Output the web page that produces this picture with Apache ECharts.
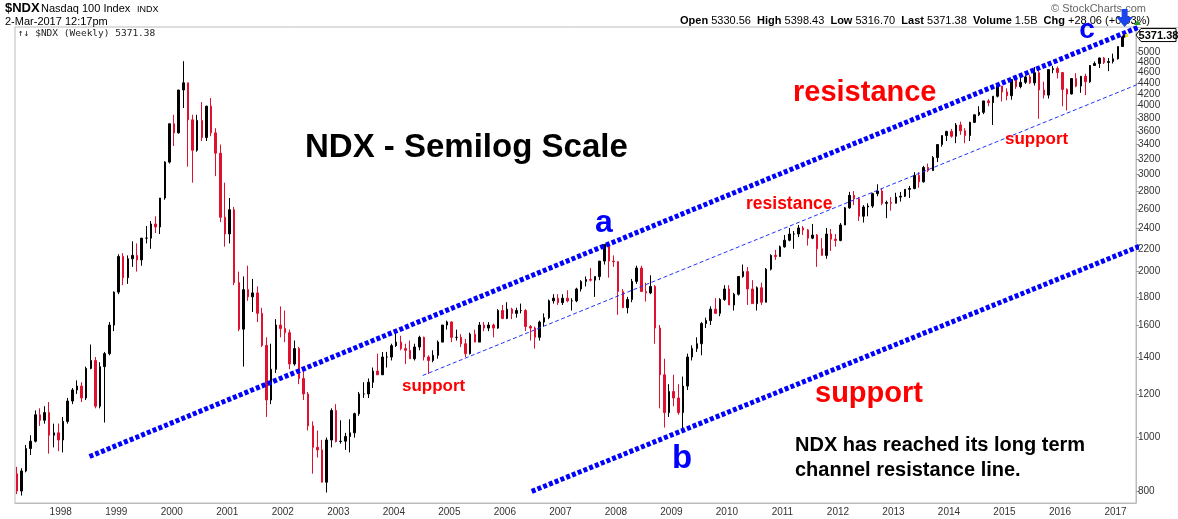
<!DOCTYPE html>
<html><head><meta charset="utf-8">
<script src="https://cdn.jsdelivr.net/npm/echarts@6/dist/echarts.min.js"></script>
<style>html,body{margin:0;padding:0;background:#fff}#c{width:1178px;height:519px}</style>
</head><body><div id="c"></div>
<script>
// ---- categories: monthly bars from Mar 1997 to Mar 2017 (last bar = 2-Mar-2017) ----
const startYear = 1997, startMonth = 3;
const lastBarDate = [2017, 3, 2];

// ---- values (NDX, monthly OHLC) ----
const openVals = [
/*1997*/ 860,800,870,955,985,1100,1075,1110,1010,1020,
/*1998*/ 990,1070,1165,1220,1240,1180,1335,1380,1140,1345,1420,1600,
/*1999*/ 1836,2130,1950,2110,2140,2100,2300,2300,2440,2410,2720,3160,
/*2000*/ 3708,3570,4270,4400,3770,3320,3760,3500,3990,3570,3280,2510,
/*2001*/ 2341,2590,1910,1573,1855,1800,1830,1680,1470,1170,1330,1600,
/*2002*/ 1577,1550,1360,1450,1280,1200,1050,960,950,830,990,1120,
/*2003*/ 984,985,1005,1020,1105,1200,1200,1260,1320,1300,1400,1400,
/*2004*/ 1468,1490,1450,1440,1390,1460,1520,1400,1380,1410,1490,1600,
/*2005*/ 1621,1520,1520,1480,1420,1540,1490,1600,1580,1600,1580,1700,
/*2006*/ 1645,1710,1680,1700,1700,1590,1580,1520,1620,1650,1770,1790,
/*2007*/ 1757,1790,1770,1770,1860,1920,1935,1930,1960,2090,2240,2090,
/*2008*/ 2085,1840,1720,1780,1920,2030,1840,1830,1880,1580,1300,1110,
/*2009*/ 1212,1180,1110,1240,1400,1450,1480,1610,1630,1710,1680,1780,
/*2010*/ 1860,1740,1820,1960,2000,1860,1750,1870,1760,2020,2140,2130,
/*2011*/ 2218,2280,2340,2340,2400,2380,2300,2330,2200,2140,2340,2290,
/*2012*/ 2278,2430,2610,2750,2710,2520,2620,2630,2770,2800,2660,2670,
/*2013*/ 2661,2730,2740,2820,2830,2990,2910,3090,3050,3220,3400,3530,
/*2014*/ 3592,3520,3690,3600,3530,3730,3850,3890,4080,4050,4160,4340,
/*2015*/ 4236,4170,4460,4330,4410,4510,4400,4590,4270,4180,4650,4670,
/*2016*/ 4593,4280,4200,4480,4340,4520,4420,4730,4770,4880,4790,4810,
/*2017*/ 4864,5120,5330.56
];
const highVals = [
/*1997*/ 885,880,970,1010,1120,1130,1140,1160,1060,1060,
/*1998*/ 1090,1180,1230,1270,1260,1345,1475,1400,1370,1430,1620,1840,
/*1999*/ 2150,2160,2140,2270,2250,2300,2420,2470,2520,2720,3170,3710,
/*2000*/ 3850,4270,4816,4400,3850,3850,4060,4000,4130,3640,3400,2900,
/*2001*/ 2720,2620,2000,1960,2050,1940,1880,1720,1520,1480,1640,1730,
/*2002*/ 1700,1570,1500,1460,1340,1210,1070,1030,990,1000,1130,1150,
/*2003*/ 1075,1020,1080,1110,1210,1260,1280,1340,1420,1430,1430,1480,
/*2004*/ 1560,1530,1480,1500,1480,1530,1525,1410,1440,1500,1600,1630,
/*2005*/ 1625,1570,1540,1510,1550,1570,1620,1620,1620,1610,1710,1740,
/*2006*/ 1760,1720,1720,1750,1710,1600,1590,1630,1680,1780,1820,1820,
/*2007*/ 1820,1850,1790,1870,1930,1960,2030,1960,2090,2240,2240,2140,
/*2008*/ 2090,1860,1800,1940,2050,2050,1910,1970,1890,1600,1390,1250,
/*2009*/ 1300,1250,1290,1420,1470,1520,1620,1650,1730,1790,1790,1890,
/*2010*/ 1890,1830,1960,2060,2040,1930,1880,1910,2030,2150,2190,2230,
/*2011*/ 2330,2400,2370,2430,2420,2390,2440,2340,2300,2400,2390,2340,
/*2012*/ 2450,2620,2790,2800,2730,2640,2660,2780,2880,2830,2690,2730,
/*2013*/ 2780,2790,2820,2860,3030,3030,3110,3140,3240,3400,3530,3600,
/*2014*/ 3630,3720,3740,3640,3740,3860,3990,4080,4110,4160,4340,4340,
/*2015*/ 4300,4460,4480,4520,4540,4550,4700,4650,4420,4650,4720,4710,
/*2016*/ 4600,4300,4490,4580,4530,4570,4740,4810,4890,4900,4880,4970,
/*2017*/ 5120,5360,5398.43
];
const lowVals = [
/*1997*/ 790,785,865,930,980,1050,1060,935,960,945,
/*1998*/ 940,1060,1150,1200,1160,1170,1330,1130,1130,1065,1410,1560,
/*1999*/ 1820,1890,1900,2040,2000,2050,2250,2200,2350,2340,2700,3140,
/*2000*/ 3380,3560,3960,3100,2900,3300,3450,3450,3520,2980,2460,2220,
/*2001*/ 2250,1890,1560,1345,1770,1690,1620,1460,1090,1150,1310,1520,
/*2002*/ 1490,1330,1350,1250,1170,1030,860,920,830,795,960,980,
/*2003*/ 975,950,940,1000,1095,1180,1180,1230,1300,1300,1340,1380,
/*2004*/ 1460,1440,1360,1390,1380,1440,1380,1305,1370,1390,1490,1570,
/*2005*/ 1490,1500,1460,1400,1415,1490,1490,1560,1560,1520,1575,1640,
/*2006*/ 1640,1640,1650,1680,1560,1500,1450,1500,1590,1640,1750,1740,
/*2007*/ 1740,1760,1700,1760,1840,1880,1920,1800,1930,2060,1950,2040,
/*2008*/ 1670,1720,1680,1760,1900,1840,1765,1820,1480,1130,1043,1090,
/*2009*/ 1140,1100,1036,1220,1380,1430,1410,1580,1600,1680,1660,1770,
/*2010*/ 1740,1700,1810,1950,1740,1750,1700,1740,1760,2010,2100,2130,
/*2011*/ 2210,2270,2200,2310,2330,2230,2290,2040,2140,2110,2180,2220,
/*2012*/ 2270,2430,2600,2640,2470,2455,2520,2610,2740,2640,2500,2580,
/*2013*/ 2660,2680,2730,2720,2820,2840,2900,3030,3050,3160,3370,3450,
/*2014*/ 3500,3420,3540,3420,3450,3720,3830,3860,3990,3690,4140,4070,
/*2015*/ 4090,4100,4290,4300,4380,4380,4350,3787,4120,4120,4580,4480,
/*2016*/ 3990,3920,4190,4320,4220,4180,4400,4720,4680,4760,4620,4770,
/*2017*/ 4850,5110,5316.70
];
const closeVals = [
/*1997*/ 800,870,955,985,1100,1075,1110,1010,1020,990,
/*1998*/ 1070,1165,1220,1240,1180,1335,1380,1140,1345,1420,1600,1836,
/*1999*/ 2130,1950,2110,2140,2100,2300,2300,2440,2410,2720,3160,3708,
/*2000*/ 3570,4270,4400,3770,3320,3760,3500,3990,3570,3280,2510,2341,
/*2001*/ 2590,1910,1573,1855,1800,1830,1680,1470,1170,1330,1600,1577,
/*2002*/ 1550,1360,1450,1280,1200,1050,960,950,830,990,1120,984,
/*2003*/ 985,1005,1020,1105,1200,1200,1260,1320,1300,1400,1400,1468,
/*2004*/ 1490,1450,1440,1390,1460,1520,1400,1380,1410,1490,1600,1621,
/*2005*/ 1520,1520,1480,1420,1540,1490,1600,1580,1600,1580,1700,1645,
/*2006*/ 1710,1680,1700,1700,1590,1580,1520,1620,1650,1770,1790,1757,
/*2007*/ 1790,1770,1770,1860,1920,1935,1930,1960,2090,2240,2090,2085,
/*2008*/ 1840,1720,1780,1920,2030,1840,1830,1880,1580,1300,1110,1212,
/*2009*/ 1180,1110,1240,1400,1450,1480,1610,1630,1710,1680,1780,1860,
/*2010*/ 1740,1820,1960,2000,1860,1750,1870,1760,2020,2140,2130,2218,
/*2011*/ 2280,2340,2340,2400,2380,2300,2330,2200,2140,2340,2290,2278,
/*2012*/ 2430,2610,2750,2710,2520,2620,2630,2770,2800,2660,2670,2661,
/*2013*/ 2730,2740,2820,2830,2990,2910,3090,3050,3220,3400,3530,3592,
/*2014*/ 3520,3690,3600,3530,3730,3850,3890,4080,4050,4160,4340,4236,
/*2015*/ 4170,4460,4330,4410,4510,4400,4590,4270,4180,4650,4670,4593,
/*2016*/ 4280,4200,4480,4340,4520,4420,4730,4770,4880,4790,4810,4864,
/*2017*/ 5120,5330,5371.38
];
const lastValue = 5371.38;

// ---- axes ----
const yTickLabels = [800,1000,1200,1400,1600,1800,2000,2200,2400,2600,2800,3000,3200,3400,3600,3800,4000,4200,4400,4600,4800,5000,5200];
const xYearLabels = [1998,1999,2000,2001,2002,2003,2004,2005,2006,2007,2008,2009,2010,2011,2012,2013,2014,2015,2016,2017];
const xRange = [1997.176, 2017.369];
const yRange = [761, 5555];

// ---- drawn channel lines, [decimal year, index value] ----
const upperChannel = [[1998.519, 924], [2018.126, 5938]];
const middleChannel = [[2004.520, 1296], [2018.126, 4682]];
const lowerChannel = [[2006.484, 799], [2018.126, 2372]];

// build bar positions (mid-month in decimal years; last bar at its date)
const rows = [];
for (let i = 0; i < closeVals.length; i++) {
  const mi = startMonth - 1 + i;
  const y = startYear + Math.floor(mi / 12), m = mi % 12;
  let t = y + (m + 0.5) / 12;
  if (i === closeVals.length - 1) {
    const d = new Date(Date.UTC(lastBarDate[0], lastBarDate[1]-1, lastBarDate[2]));
    const s = Date.UTC(lastBarDate[0],0,1), e = Date.UTC(lastBarDate[0]+1,0,1);
    t = lastBarDate[0] + (d - s) / (e - s);
  }
  rows.push([t, openVals[i], closeVals[i], lowVals[i], highVals[i]]);
}

const FF = '"Liberation Sans", Arial, sans-serif';
const RED = '#ff0000', BLUE = '#0000ff', BARRED = '#e0102f';

function txt(x, y, text, font, fill, align, va, z) {
  return {type:'text', x:x, y:y, silent:true, z:z||100,
    style:{text:text, font:font, fill:fill||'#000', align:align||'left', verticalAlign:va||'middle'}};
}

const chart = echarts.init(document.getElementById('c'), null, {renderer:'canvas'});
const channelStyle = {color:BLUE, width:5, type:[4,2.2], cap:'butt'};
chart.setOption({
  animation:false,
  backgroundColor:'#fff',
  grid:{left:15, right:42, top:27, bottom:16, show:true, borderColor:'#bbb', borderWidth:1, containLabel:false},
  dataset:{source:rows},
  xAxis:{type:'value', min:xRange[0], max:xRange[1],
    axisLine:{show:true, lineStyle:{color:'#bbb'}}, axisTick:{show:false}, splitLine:{show:false},
    axisLabel:{customValues:xYearLabels, formatter:v=>String(Math.round(v)), color:'#333', fontSize:10, fontFamily:FF, margin:4}},
  yAxis:{type:'log', position:'right', min:yRange[0], max:yRange[1],
    axisLine:{show:true, lineStyle:{color:'#bbb'}},
    axisTick:{show:true, customValues:yTickLabels, length:3, lineStyle:{color:'#999'}},
    splitLine:{show:false}, minorTick:{show:false},
    axisLabel:{customValues:yTickLabels, formatter:v=>String(Math.round(v)), color:'#333', fontSize:10, fontFamily:FF, margin:2}},
  series:[
    {type:'candlestick', encode:{x:0, y:[1,2,3,4]}, barWidth:2, silent:true,
      itemStyle:{color:'#000', color0:BARRED, borderColor:'#000', borderColor0:BARRED, borderWidth:1}},
    {type:'line', data:upperChannel, symbol:'none', clip:false, silent:true, z:5, lineStyle:channelStyle},
    {type:'line', data:lowerChannel, symbol:'none', clip:false, silent:true, z:5, lineStyle:channelStyle},
    {type:'line', data:middleChannel, symbol:'none', clip:false, silent:true, z:5,
      lineStyle:{color:'#2233ff', width:1, type:[4,2.5]}}
  ]
});

// annotations
const lastT = rows[rows.length-1][0];
const pTag = chart.convertToPixel({xAxisIndex:0, yAxisIndex:0}, [lastT, lastValue]);
const ax = pTag[0];
const tagY = pTag[1];

const graphics = [
  {type:'line', silent:true, shape:{x1:1136, y1:27.5, x2:1178, y2:27.5}, style:{stroke:'#bbb', lineWidth:1}},
  txt(5, 8.5, '$NDX', 'bold 13px '+FF, '#000'),
  txt(41, 9, 'Nasdaq 100 Index', '11px '+FF, '#000'),
  txt(137, 9.5, 'INDX', '9px '+FF, '#000'),
  txt(5, 21.5, '2-Mar-2017 12:17pm', '11px '+FF, '#000'),
  txt(1051, 8.5, '\u00A9 StockCharts.com', '11px '+FF, '#666'),
  {type:'text', x:680, y:21, silent:true, z:100, style:{
    text:'{b|Open} {n|5330.56}  {b|High} {n|5398.43}  {b|Low} {n|5316.70}  {b|Last} {n|5371.38}  {b|Volume} {n|1.5B}  {b|Chg} {n|+28.06 (+0.53%)}',
    verticalAlign:'middle', align:'left', fill:'#000', font:'11px '+FF,
    rich:{b:{font:'bold 11px '+FF, fill:'#000'}, n:{font:'11px '+FF, fill:'#000'}}}},
  txt(18, 34, '\u2191\u2193 $NDX (Weekly) 5371.38', '9.5px "DejaVu Sans Mono", monospace', '#222'),
  txt(305, 148, 'NDX - Semilog Scale', 'bold 33px '+FF, '#000'),
  txt(793, 93, 'resistance', 'bold 29px '+FF, RED),
  txt(746, 204, 'resistance', 'bold 17.5px '+FF, RED),
  txt(1005, 139, 'support', 'bold 17px '+FF, RED),
  txt(402, 386, 'support', 'bold 17px '+FF, RED),
  txt(815, 394, 'support', 'bold 29px '+FF, RED),
  txt(604, 223, 'a', 'bold 32px '+FF, BLUE, 'center'),
  txt(682, 459, 'b', 'bold 33px '+FF, BLUE, 'center'),
  txt(1087, 30, 'c', 'bold 28px '+FF, BLUE, 'center'),
  txt(795, 445, 'NDX has reached its long term', 'bold 20px '+FF, '#000'),
  txt(795, 470, 'channel resistance line.', 'bold 20px '+FF, '#000'),
  // price tag
  {type:'polygon', silent:true, z:110, shape:{points:[[1136,tagY],[1141,tagY-6.5],[1176,tagY-6.5],[1176,tagY+6.5],[1141,tagY+6.5]]},
    style:{fill:'#fff', stroke:'#000', lineWidth:1}},
  txt(1158.5, tagY+0.5, '5371.38', 'bold 11px '+FF, '#000', 'center', 'middle', 115),
  // current-bar marker
  {type:'rect', silent:true, z:90, shape:{x:ax+0.5, y:tagY-1, width:3, height:3}, style:{fill:'#f2e600'}},
  // small green triangle (up change)
  {type:'polygon', silent:true, z:110, shape:{points:[[1134,25],[1137.5,20],[1141,25]]}, style:{fill:'#2a9d2a'}},
  // blue arrow pointing at the last bar
  {type:'polygon', silent:true, z:120, shape:{points:[
    [ax-3, 9],[ax+3, 9],[ax+3, 17],[ax+8.5, 17],[ax, 27],[ax-8.5, 17],[ax-3, 17]]},
    style:{fill:'#1a44ee'}}
];
chart.setOption({graphic:graphics});
</script></body></html>
